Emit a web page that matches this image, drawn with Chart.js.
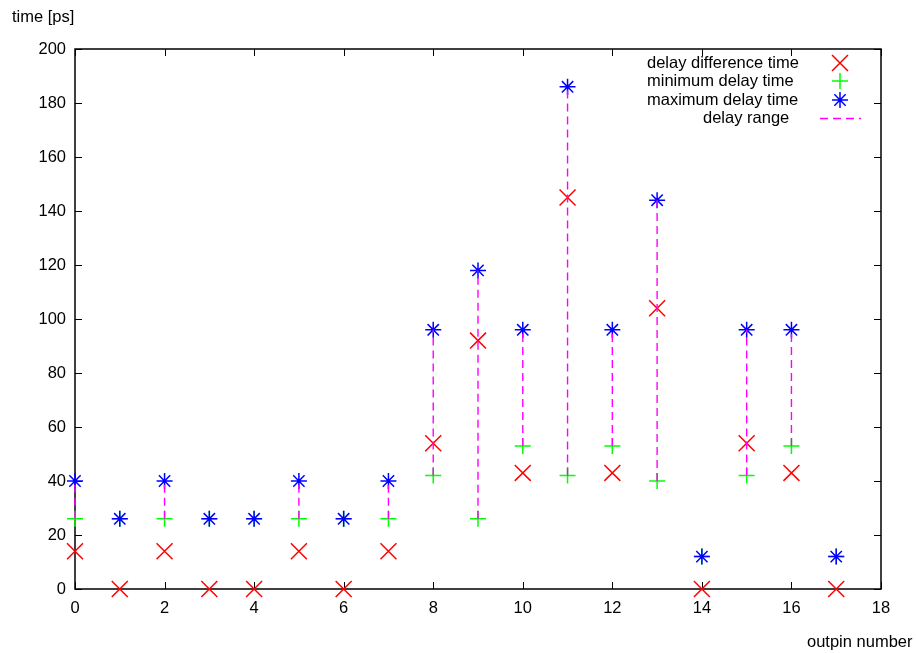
<!DOCTYPE html>
<html>
<head>
<meta charset="utf-8">
<title>outpin delay</title>
<script src="https://cdn.jsdelivr.net/npm/chart.js@4"></script>
<style>
  html, body { margin: 0; padding: 0; background: #fff; }
</style>
</head>
<body>
<canvas id="c" width="916" height="653"></canvas>
<script>
// data
const outpins   = [0, 1, 2, 3, 4, 5, 6, 7, 8, 9, 10, 11, 12, 13, 14, 15, 16, 17];
const diffDelay = [14, 0, 14, 0, 0, 14, 0, 14, 54, 92, 43, 145, 43, 104, 0, 54, 43, 0];
const minDelay  = [26, 26, 26, 26, 26, 26, 26, 26, 42, 26, 53, 42, 53, 40, 12, 42, 53, 12];
const maxDelay  = [40, 26, 40, 26, 26, 40, 26, 40, 96, 118, 96, 186, 96, 144, 12, 96, 96, 12];
const xTicks = { min: 0, max: 18, step: 2 };
const yTicks = { min: 0, max: 200, step: 20 };

const FONT = '"Liberation Sans", Arial, sans-serif';
const pts = ys => outpins.map((x, i) => ({ x: x, y: ys[i] }));

// vertical dashed segments min -> max, broken by null gaps
const rangeData = outpins.flatMap((x, i) => [
  { x: x, y: minDelay[i] }, { x: x, y: maxDelay[i] }, { x: x, y: null }
]);

// gnuplot-like frame with inward ticks on all four sides
const framePlugin = {
  id: 'frame',
  beforeDatasetsDraw(chart) {
    const { ctx, chartArea: a, scales } = chart;
    ctx.save();
    ctx.strokeStyle = '#000';
    ctx.lineWidth = 1.5;
    ctx.strokeRect(a.left, a.top, a.right - a.left, a.bottom - a.top);
    ctx.lineWidth = 1;
    ctx.beginPath();
    scales.x.ticks.forEach(t => {
      const px = Math.round(scales.x.getPixelForValue(t.value)) + 0.5;
      ctx.moveTo(px, a.bottom); ctx.lineTo(px, a.bottom - 7);
      ctx.moveTo(px, a.top); ctx.lineTo(px, a.top + 7);
    });
    scales.y.ticks.forEach(t => {
      const py = Math.round(scales.y.getPixelForValue(t.value)) + 0.5;
      ctx.moveTo(a.left, py); ctx.lineTo(a.left + 7, py);
      ctx.moveTo(a.right, py); ctx.lineTo(a.right - 7, py);
    });
    ctx.stroke();
    ctx.restore();
  }
};

// axis titles and key (text on the left, sample on the right)
const keyPlugin = {
  id: 'key',
  afterDraw(chart) {
    const ctx = chart.ctx;
    ctx.save();
    ctx.fillStyle = '#000';
    ctx.font = '16.5px ' + FONT;
    ctx.textBaseline = 'middle';
    ctx.textAlign = 'left';
    ctx.fillText('time [ps]', 12, 17);
    ctx.fillText('outpin number', 807, 642);

    const rows = [63, 81, 100, 118.5];
    const textX = [647, 647, 647, 703];
    chart.data.datasets.slice().sort((p, q) => q.order - p.order).forEach((ds, i) => {
      const y = rows[i];
      ctx.fillStyle = '#000';
      ctx.fillText(ds.label, textX[i], y);
      ctx.strokeStyle = ds.borderColor;
      ctx.fillStyle = ds.borderColor;
      if (ds.showLine) {
        ctx.lineWidth = ds.borderWidth;
        ctx.setLineDash(ds.borderDash);
        ctx.beginPath();
        ctx.moveTo(820, y); ctx.lineTo(861, y);
        ctx.stroke();
        ctx.setLineDash([]);
      } else {
        ctx.lineWidth = ds.borderWidth;
        Chart.helpers.drawPoint(ctx, {
          pointStyle: ds.pointStyle, radius: ds.pointRadius,
          borderWidth: ds.borderWidth, rotation: 0
        }, 840, y);
      }
    });
    ctx.restore();
  }
};

const markerSet = (label, ys, style, color, r, order) => ({
  label: label,
  data: pts(ys),
  pointStyle: style,
  pointRadius: r,
  pointHoverRadius: r,
  borderColor: color,
  backgroundColor: color,
  borderWidth: 1.5,
  showLine: false,
  clip: false,
  order: order
});

new Chart(document.getElementById('c'), {
  type: 'scatter',
  data: {
    datasets: [
      markerSet('delay difference time', diffDelay, 'crossRot', '#ff0000', 11.3, 3),
      markerSet('minimum delay time', minDelay, 'cross', '#00ff00', 8, 2),
      markerSet('maximum delay time', maxDelay, 'star', '#0000ff', 8, 1),
      {
        label: 'delay range',
        data: rangeData,
        showLine: true,
        spanGaps: false,
        borderColor: '#ff00ff',
        borderWidth: 1.4,
        borderDash: [8, 5],
        pointRadius: 0,
        pointHoverRadius: 0,
        clip: false,
        order: 0
      }
    ]
  },
  options: {
    responsive: false,
    animation: false,
    devicePixelRatio: 1,
    layout: { padding: { top: 49, right: 35, left: 0, bottom: 0 } },
    plugins: { legend: { display: false }, tooltip: { enabled: false } },
    scales: {
      x: {
        type: 'linear',
        min: xTicks.min, max: xTicks.max,
        ticks: { stepSize: xTicks.step, padding: 10, color: '#000', font: { family: FONT, size: 16.5 } },
        grid: { display: false, drawTicks: false },
        border: { display: false },
        afterFit: s => { s.height = 64; }
      },
      y: {
        type: 'linear',
        min: yTicks.min, max: yTicks.max,
        ticks: { stepSize: yTicks.step, padding: 9, color: '#000', font: { family: FONT, size: 16.5 } },
        grid: { display: false, drawTicks: false },
        border: { display: false },
        afterFit: s => { s.width = 75; }
      }
    }
  },
  plugins: [framePlugin, keyPlugin]
});
</script>
</body>
</html>
